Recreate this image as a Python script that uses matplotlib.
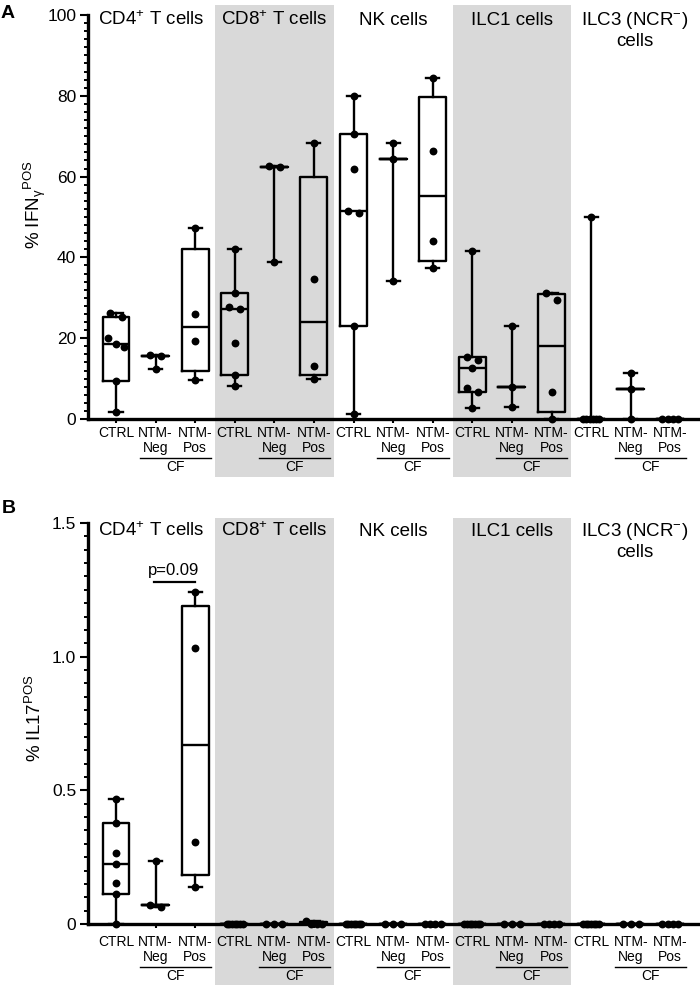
import matplotlib
matplotlib.use("Agg")

import numpy as np
import matplotlib.pyplot as plt
from matplotlib.ticker import MultipleLocator, FuncFormatter

plt.rcParams["font.family"] = ["Liberation Sans", "DejaVu Sans"]
plt.rcParams["mathtext.fontset"] = "custom"
plt.rcParams["mathtext.rm"] = "Liberation Sans"
plt.rcParams["mathtext.it"] = "Liberation Sans:italic"
plt.rcParams["mathtext.bf"] = "Liberation Sans:bold"

# cell populations and conditions (3 conditions per population)
cell_types = [r"CD4$^\mathregular{+}$ T cells", r"CD8$^\mathregular{+}$ T cells",
              "NK cells", "ILC1 cells", r"ILC3 (NCR$^\mathregular{-}$)" + "\ncells"]
conditions = ["CTRL", "NTM-\nNeg", "NTM-\nPos"]

# % IFNg positive, one list per box (CTRL, NTM-Neg, NTM-Pos for each cell type)
ifng_cd4 = [[26.2, 25.3, 20.0, 18.5, 17.9, 9.5, 1.8],
            [15.8, 15.6, 12.5],
            [47.4, 26.1, 19.2, 9.6]]
ifng_cd8 = [[42.1, 31.2, 27.8, 27.2, 18.9, 10.9, 8.2],
            [62.6, 62.4, 38.8],
            [68.4, 34.6, 13.2, 10.0]]
ifng_nk = [[79.9, 70.5, 61.9, 51.5, 50.9, 22.9, 1.2],
           [68.2, 64.4, 34.2],
           [84.3, 66.3, 44.1, 37.5]]
ifng_ilc1 = [[41.7, 15.4, 14.6, 12.6, 7.6, 6.6, 2.6],
             [23.1, 8.0, 2.9],
             [31.3, 29.5, 6.8, 0.0]]
ifng_ilc3 = [[50.1, 0.0, 0.0, 0.0, 0.0, 0.0, 0.0],
             [11.3, 7.4, 0.0],
             [0.0, 0.0, 0.0, 0.0]]

# % IL17 positive
il17_cd4 = [[0.466, 0.376, 0.264, 0.224, 0.154, 0.112, 0.0],
            [0.236, 0.071, 0.062],
            [1.243, 1.031, 0.306, 0.140]]
il17_cd8 = [[0.0] * 7, [0.0] * 3, [0.011, 0.0, 0.0, 0.0]]
il17_nk = [[0.0] * 7, [0.0] * 3, [0.0] * 4]
il17_ilc1 = [[0.0] * 7, [0.0] * 3, [0.0] * 4]
il17_ilc3 = [[0.0] * 7, [0.0] * 3, [0.0] * 4]

ifng = ifng_cd4 + ifng_cd8 + ifng_nk + ifng_ilc1 + ifng_ilc3
il17 = il17_cd4 + il17_cd8 + il17_nk + il17_ilc1 + il17_ilc3

BAND = "#d9d9d9"
LW = 1.7


def box_stats(vals):
    v = np.sort(np.asarray(vals, dtype=float))
    med = np.median(v)
    if len(v) >= 4:
        q1, q3 = np.percentile(v, [25, 75], method="weibull")
    else:
        # no box for n=3 in the original, only median line + range
        q1 = q3 = med
    return dict(med=med, q1=q1, q3=q3, whislo=v[0], whishi=v[-1], fliers=[])


def swarm_offsets(vals, row_gap, step, span):
    vals = np.asarray(vals, dtype=float)
    order = np.argsort(-vals, kind="stable")
    rows = []
    for i in order:
        if rows and vals[rows[-1][-1]] - vals[i] < row_gap:
            rows[-1].append(i)
        else:
            rows.append([i])
    offs = np.zeros(len(vals))
    for row in rows:
        m = len(row)
        if m > 1:
            d = min(step, span / (m - 1))
            for k, i in enumerate(row):
                offs[i] = (k - (m - 1) / 2) * d
    return offs


def draw_panel(ax, data, ymax, major, minor, fmt, row_gap, lab_pad,
               title_y, under_y, band_y):
    n = len(data)
    pos = np.arange(n)
    ax.set_xlim(-0.707, 14.7)
    ax.set_ylim(0, ymax)

    # grey bands behind CD8 and ILC1
    tr = ax.get_xaxis_transform()
    for g in (1, 3):
        ax.axvspan(3 * g - 0.5, 3 * g + 2.5, ymin=band_y[0], ymax=band_y[1],
                   color=BAND, lw=0, zorder=0, clip_on=False)

    stats = [box_stats(v) for v in data]
    art = ax.bxp(stats, positions=pos, widths=0.68, capwidths=0.33,
                 showfliers=False, manage_ticks=False, zorder=3,
                 boxprops=dict(color="black", lw=LW),
                 whiskerprops=dict(color="black", lw=LW),
                 capprops=dict(color="black", lw=LW),
                 medianprops=dict(color="black", lw=LW))
    for key in art:
        for a in art[key]:
            a.set_clip_on(False)

    for p, v in zip(pos, data):
        offs = swarm_offsets(v, row_gap, 0.28, 0.40)
        ax.scatter(p + offs, v, s=32, color="black", zorder=4, clip_on=False,
                   linewidths=0)

    # axes styling
    for s in ("top", "right"):
        ax.spines[s].set_visible(False)
    for s in ("left", "bottom"):
        ax.spines[s].set_linewidth(2.4)
    ax.yaxis.set_major_locator(MultipleLocator(major))
    ax.yaxis.set_minor_locator(MultipleLocator(minor))
    ax.yaxis.set_major_formatter(FuncFormatter(fmt))
    ax.tick_params(axis="y", which="major", length=5.5, width=1.5,
                   labelsize=12.5, pad=3)
    ax.tick_params(axis="y", which="minor", length=3.2, width=1.4)
    ax.set_xticks(pos)
    ax.set_xticklabels(conditions * 5, fontsize=10, linespacing=1.1)
    ax.tick_params(axis="x", length=3, width=1.5, pad=lab_pad)
    ax.set_facecolor("none")

    # population titles
    edges = [-0.707, 2.5, 5.5, 8.5, 11.5, 14.7]
    for g, name in enumerate(cell_types):
        xc = (edges[g] + edges[g + 1]) / 2
        for k, line in enumerate(name.split("\n")):
            ax.text(xc, title_y[k], line, transform=tr, ha="center",
                    va="baseline", fontsize=13.5, zorder=5)

    # CF underline below NTM-Neg / NTM-Pos
    for g in range(5):
        xc = 3 * g + 1.5
        ax.plot([xc - 0.9, xc + 0.9], [under_y[0]] * 2, transform=tr,
                color="black", lw=1.0, clip_on=False)
        ax.text(xc, under_y[1], "CF", transform=tr, ha="center", va="center",
                fontsize=10)


fig = plt.figure(figsize=(7, 9.85), dpi=100)
axA = fig.add_axes([88 / 700, 1 - 419 / 985, 610 / 700, 404 / 985])
axB = fig.add_axes([88 / 700, 1 - 924 / 985, 610 / 700, 401 / 985])

draw_panel(axA, ifng, 100, 20, 2, lambda v, p: f"{v:.0f}", 2.0, 2.0,
           title_y=[0.975, 0.923], under_y=[-0.0958, -0.119],
           band_y=[-0.1436, 1.025])
draw_panel(axB, il17, 1.5, 0.5, 0.05,
           lambda v, p: "0" if v == 0 else f"{v:.1f}", 0.025, 4.8,
           title_y=[0.968, 0.915], under_y=[-0.107, -0.130],
           band_y=[-0.152, 1.0125])

axA.text(-0.087, 0.53, r"% IFN$_\mathregular{γ}$$^\mathregular{POS}$",
         transform=axA.transAxes, rotation=90, ha="center", va="center",
         fontsize=13.5)
axB.text(-0.087, 0.514, r"% IL17$^\mathregular{POS}$",
         transform=axB.transAxes, rotation=90, ha="center", va="center",
         fontsize=13.5)

# p value bracket
axB.plot([0.97, 2.0], [1.278, 1.278], color="black", lw=1.6)
axB.text(1.45, 1.305, "p=0.09", ha="center", va="baseline", fontsize=12)

fig.text(1 / 700, 1 - 18 / 985, "A", fontsize=14, weight="bold", va="baseline")
fig.text(2 / 700, 1 - 513 / 985, "B", fontsize=14, weight="bold", va="baseline")

fig.savefig("out.png", dpi=100)
print("saved out.png")
